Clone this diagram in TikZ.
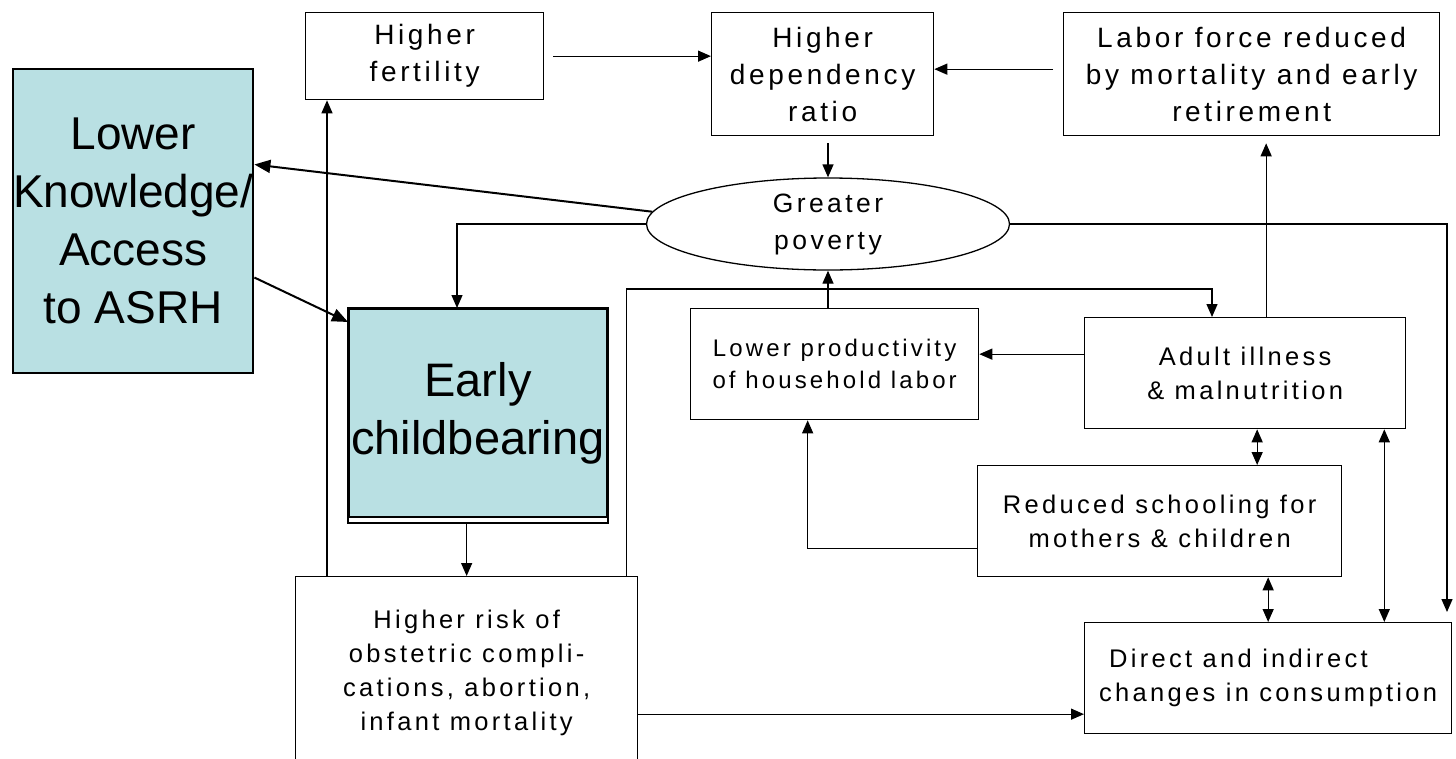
\documentclass[tikz,border=0pt]{standalone}
\usepackage{fontspec}
\setmainfont{Liberation Sans}
\newfontfamily\spaced[LetterSpace=13]{Liberation Sans}
\usepackage{xcolor}
\usepackage{tikz}
\usetikzlibrary{shapes,arrows.meta,positioning,calc}

\definecolor{asrhblue}{HTML}{B9E0E3}
\newcommand{\fntTop}{\spaced\fontsize{28}{37}\selectfont}
\newcommand{\fntMid}{\spaced\fontsize{25.5}{34}\selectfont}
\newcommand{\fntBig}{\fontsize{46}{58}\selectfont}

\tikzset{
  box/.style={draw, line width=1.3pt, inner sep=0pt, anchor=north west, align=center},
  bigbox/.style={box, fill=asrhblue, line width=2pt},
  arr/.style={line width=1.3pt, -{Triangle[length=13pt,width=11pt]}},
  dblarr/.style={line width=1.3pt, {Triangle[length=13pt,width=11pt]}-{Triangle[length=13pt,width=11pt]}},
  thickarr/.style={line width=2pt, -{Triangle[length=16pt,width=13pt]}}
}

\begin{document}
\begin{tikzpicture}[x=1pt, y=-1pt]
    \useasboundingbox (0,0) rectangle (1456,758);

    % Blue boxes
    \node[bigbox, minimum width=240pt, minimum height=304pt, font=\fntBig] (know) at (12,68) {Lower\\Knowledge/\\Access\\to ASRH};
    \node[bigbox, minimum width=258pt, minimum height=208pt, font=\fontsize{47}{58}\selectfont] (early) at (348,308) {Early\\childbearing};
    \draw[line width=1.3pt] (early.north west) rectangle ([yshift=-5pt]early.south east);

    % Top row
    \node[box, minimum width=238pt, minimum height=87pt, font=\fntTop] (fert) at (305,12) {Higher\\fertility};
    \node[box, minimum width=222pt, minimum height=123pt, font=\fntTop] (dep) at (711,12) {Higher\\dependency\\ratio};
    \node[box, minimum width=376pt, minimum height=123pt, font=\fntTop] (labor) at (1063,12) {Labor force reduced\\by mortality and early\\retirement};

    % Poverty
    \node[draw, ellipse, line width=1.3pt, inner sep=0pt, minimum width=363pt, minimum height=92pt, align=center,
          font=\spaced\fontsize{26.5}{37}\selectfont] (pov) at (828,224) {Greater\\poverty};

    % Middle and lower boxes
    \node[box, minimum width=288pt, minimum height=111pt, font=\spaced\fontsize{24}{32}\selectfont] (prod) at (690,308) {Lower productivity\\of household labor};
    \node[box, minimum width=321pt, minimum height=111pt, font=\fntMid] (adult) at (1084,317) {Adult illness\\\& malnutrition};
    \node[box, minimum width=364pt, minimum height=111pt, font=\fntMid] (school) at (977,465) {Reduced schooling for\\mothers \& children};
    \node[box, minimum width=367pt, minimum height=111pt, font=\fntMid, align=left] (direct) at (1084,622) {\hspace*{10pt}Direct and indirect\\changes in consumption};
    \node[box, minimum width=342pt, minimum height=188pt, font=\fntMid, text depth=0pt] (risk) at (295,576) {Higher risk of\\obstetric compli-\\cations, abortion,\\infant mortality};

    % Helper points
    \coordinate (bend) at (1212,289);
    \coordinate (povend) at (1447,612);
    \coordinate (earlybot) at ([yshift=-5pt]early.south);
    \coordinate (riskup) at ([xshift=32pt]risk.north west);
    \coordinate (dirin) at ([yshift=-36pt]direct.west);
    \coordinate (adin) at ([yshift=19pt]adult.west);
    \coordinate (schout) at ([yshift=-27pt]school.west);
    \coordinate (adup) at ([xshift=21pt]adult.north);
    \coordinate (adsch) at ([xshift=12pt]adult.south);
    \coordinate (addir) at ([xshift=-22pt]adult.south east);

    % Top row arrows
    \draw[arr, shorten <=9pt] (fert.east) -- (fert.east -| dep.west);
    \draw[arr, shorten <=10pt] ([yshift=5pt]labor.west) -- ([yshift=5pt]labor.west -| dep.east);
    \draw[arr, shorten <=7pt] (dep.south -| pov.north) -- (pov.north);

    % Out of poverty
    \draw[thickarr] (pov.176) -- (know.25);
    \draw[thickarr] (know.-25) -- (early.145);
    \draw[arr] (pov.west) -| ([xshift=-21pt]early.north);
    \draw[arr] (pov.east) -| (povend);

    % Left side
    \draw[arr] (riskup) -- (riskup |- fert.south);
    \draw[arr] (earlybot -| risk.north) -- (risk.north);
    \draw[arr] ([xshift=-12pt]risk.north east) |- (bend) -- (bend |- adult.north);
    \draw[arr] (dirin -| risk.east) -- (dirin);

    % Right side
    \draw[arr] (adin) -- (adin -| prod.east);
    \draw[arr] (schout) -| ([xshift=-27pt]prod.south);
    \draw[arr] (prod.north -| pov.south) -- (pov.south);
    \draw[arr, shorten >=7pt] (adup) -- (adup |- labor.south);
    \draw[dblarr] (adsch) -- (adsch |- school.north);
    \draw[dblarr] (school.south -| direct.north) -- (direct.north);
    \draw[dblarr] (addir) -- (addir |- direct.north);

\end{tikzpicture}
\end{document}
